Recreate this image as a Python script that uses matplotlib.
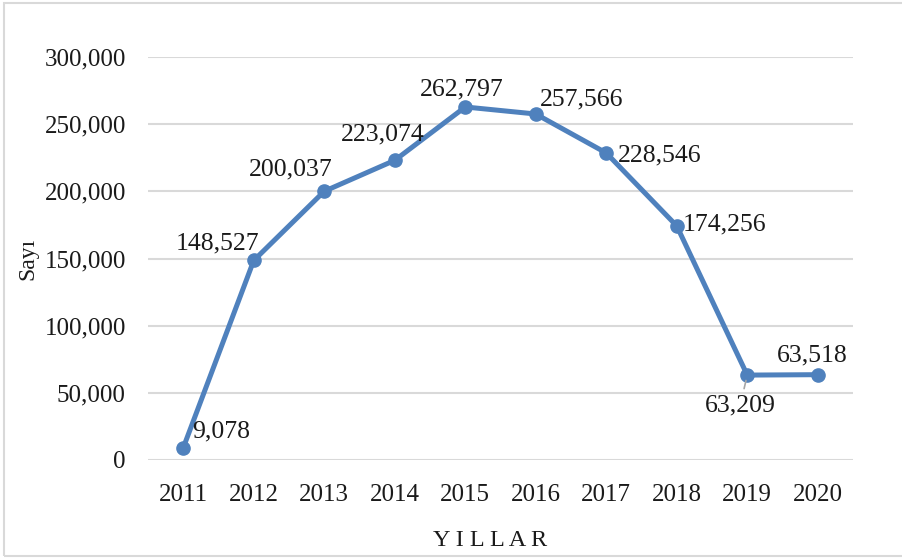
import matplotlib.pyplot as plt
from matplotlib.patches import Rectangle

years = ["2011", "2012", "2013", "2014", "2015", "2016", "2017", "2018", "2019", "2020"]
counts = [9078, 148527, 200037, 223074, 262797, 257566, 228546, 174256, 63209, 63518]
yticks = [0, 50000, 100000, 150000, 200000, 250000, 300000]

# label offsets in pixels (x, y) from each point
offsets = [(38, 16), (-36, 17), (-33, 22), (-12, 26), (-3, 18),
           (46, 15), (53, -2), (48, 1), (-7, -30), (-5, 19)]

plt.rcParams['font.family'] = ['Liberation Serif', 'DejaVu Serif']

fig = plt.figure(figsize=(9.03, 5.59), dpi=100)
ax = fig.add_axes([148 / 903, 99 / 559, 705 / 903, 403 / 559])

x = list(range(len(years)))
ax.plot(x, counts, color='#4f81bd', lw=3.6, marker='o', markersize=9.5, zorder=3)

for i, (v, off) in enumerate(zip(counts, offsets)):
    label = f"{v:,}"
    if i == 8:
        ax.annotate(label, (i, v), xytext=off, textcoords='offset pixels',
                    ha='center', va='center', fontsize=18.5, color='#1a1a1a',
                    arrowprops=dict(arrowstyle='-', color='#a6a6a6', lw=1.2,
                                    shrinkA=2, shrinkB=4))
    else:
        ax.annotate(label, (i, v), xytext=off, textcoords='offset pixels',
                    ha='center', va='center', fontsize=18.5, color='#1a1a1a')

ax.set_xlim(-0.5, len(years) - 0.5)
ax.set_ylim(0, 300000)
ax.set_xticks(x)
ax.set_xticklabels(years)
ax.set_yticks(yticks)
ax.set_yticklabels([f"{t:,}" for t in yticks])
ax.tick_params(length=0, labelsize=18, colors='#1a1a1a')
ax.tick_params(axis='y', pad=16)
ax.tick_params(axis='x', pad=17)
ax.grid(axis='y', color='#d9d9d9', lw=1.5)
ax.set_axisbelow(True)
for s in ax.spines.values():
    s.set_visible(False)

ax.set_ylabel("Sayı", fontsize=17, labelpad=4, color='#1a1a1a')
fig.text(490 / 903, 1 - 540 / 559, "Y I L L A R", ha='center', va='center',
         fontsize=17.5, color='#1a1a1a')

fig.patches.append(Rectangle((4 / 903, 3 / 559), 1.2, 553 / 559,
                             transform=fig.transFigure, fill=False,
                             edgecolor='#d9d9d9', lw=1.5))

fig.savefig("out.png", dpi=100)
